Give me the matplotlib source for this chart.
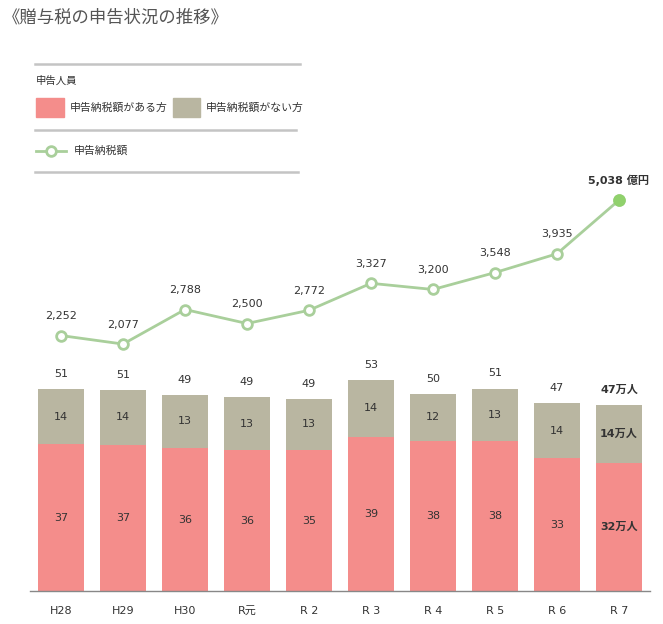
import matplotlib
matplotlib.use("Agg")
import matplotlib.pyplot as plt
from matplotlib.lines import Line2D
from matplotlib.patches import Rectangle

plt.rcParams['font.family'] = ['DejaVu Sans', 'Noto Sans CJK JP']

# ---- data ----
years = ["H28", "H29", "H30", "R元", "R 2", "R 3", "R 4", "R 5", "R 6", "R 7"]
with_tax = [37.0, 36.9, 36.0, 35.5, 35.5, 38.9, 37.9, 37.8, 33.4, 32.3]      # 申告納税額がある方 (万人)
without_tax = [13.9, 13.7, 13.4, 13.3, 12.9, 14.2, 11.7, 13.2, 14.0, 14.5]   # 申告納税額がない方 (万人)
with_labels = ["37", "37", "36", "36", "35", "39", "38", "38", "33", "32万人"]
without_labels = ["14", "14", "13", "13", "13", "14", "12", "13", "14", "14万人"]
total_labels = ["51", "51", "49", "49", "49", "53", "50", "51", "47", "47万人"]
tax_amount = [2252, 2077, 2788, 2500, 2772, 3327, 3200, 3548, 3935, 5038]   # 申告納税額 (億円)
tax_labels = ["2,252", "2,077", "2,788", "2,500", "2,772", "3,327", "3,200", "3,548", "3,935", "5,038 億円"]

PINK = "#f48d8b"
GRAY = "#b9b6a1"
GREEN = "#a9cf9b"
GREEN_DOT = "#90d16c"
TXT = "#333333"

W, H = 663, 624
fig = plt.figure(figsize=(W / 100, H / 100), dpi=100)

def fx(px):
    return px / W

def fy(py):
    return 1 - py / H

# ---- main axes ----
ax_bottom, ax_top = 591, 160
ax = fig.add_axes([fx(30), fy(ax_bottom), fx(650) - fx(30), (ax_bottom - ax_top) / H])
x = list(range(len(years)))
px_per_unit = 3.97
ax.set_xlim(-0.5, len(years) - 0.5)
ax.set_ylim(0, (ax_bottom - ax_top) / px_per_unit)

bw = 0.726
ax.bar(x, with_tax, width=bw, color=PINK, zorder=2)
ax.bar(x, without_tax, width=bw, bottom=with_tax, color=GRAY, zorder=2)

for s in ["top", "right", "left"]:
    ax.spines[s].set_visible(False)
ax.spines["bottom"].set_color("#888888")
ax.spines["bottom"].set_linewidth(1.0)
ax.set_yticks([])
ax.set_xticks(x)
ax.set_xticklabels(years, fontsize=8, color=TXT)
ax.tick_params(axis="x", length=0, pad=11)

last = len(years) - 1
for i in x:
    bold = "bold" if i == last else "normal"
    ax.text(i, with_tax[i] / 2, with_labels[i], ha="center", va="center",
            fontsize=8, color=TXT, fontweight=bold, zorder=3)
    ax.text(i, with_tax[i] + without_tax[i] / 2, without_labels[i], ha="center", va="center",
            fontsize=8, color=TXT, fontweight=bold, zorder=3)
    ax.annotate(total_labels[i], (i, with_tax[i] + without_tax[i]), xytext=(0, 11),
                textcoords="offset points", ha="center", va="center",
                fontsize=8, color=TXT, fontweight=bold)

# ---- line on twin axes ----
ax2 = ax.twinx()
zero_px = 445
amt_px = 0.0486
ax2.set_ylim((zero_px - ax_bottom) / amt_px, (zero_px - ax_top) / amt_px)
ax2.axis("off")
ax2.plot(x, tax_amount, color=GREEN, lw=2, marker="o", ms=7, mfc="white",
         mec=GREEN, mew=2, zorder=4)
ax2.plot([x[-1]], [tax_amount[-1]], marker="o", ms=7, mfc=GREEN_DOT, mec=GREEN_DOT,
         mew=2, zorder=5, ls="none")
for i in x:
    bold = "bold" if i == last else "normal"
    ax2.annotate(tax_labels[i], (i, tax_amount[i]), xytext=(0, 14),
                 textcoords="offset points", ha="center", va="center",
                 fontsize=8, color=TXT, fontweight=bold)

# ---- title ----
fig.text(fx(3), fy(18), "《贈与税の申告状況の推移》", fontsize=12.5, color="#555555",
         va="center", ha="left", family=["Noto Sans CJK JP", "DejaVu Sans"])

# ---- legend block ----
def hline(y, x0, x1):
    fig.add_artist(Line2D([fx(x0), fx(x1)], [fy(y), fy(y)], color="#c4c4c4", lw=1.8))

hline(64, 35, 300)
hline(130, 35, 296)
hline(172, 35, 298)
cjk = ["Noto Sans CJK JP", "DejaVu Sans"]
fig.text(fx(36), fy(81), "申告人員", fontsize=7.5, color=TXT, va="center", family=cjk)
fig.add_artist(Rectangle((fx(36), fy(117)), fx(64) - fx(36), (117 - 98) / H,
                         transform=fig.transFigure, color=PINK))
fig.text(fx(70), fy(108), "申告納税額がある方", fontsize=7.8, color=TXT, va="center", family=cjk)
fig.add_artist(Rectangle((fx(173), fy(117)), fx(200) - fx(173), (117 - 98) / H,
                         transform=fig.transFigure, color=GRAY))
fig.text(fx(206), fy(108), "申告納税額がない方", fontsize=7.8, color=TXT, va="center", family=cjk)
fig.add_artist(Line2D([fx(36), fx(66)], [fy(151), fy(151)], color=GREEN, lw=2))
fig.add_artist(Line2D([fx(51)], [fy(151)], marker="o", ms=7, mfc="white", mec=GREEN, mew=2))
fig.text(fx(74), fy(151), "申告納税額", fontsize=7.8, color=TXT, va="center", family=cjk)

fig.savefig("out.png", dpi=100, facecolor="white")
